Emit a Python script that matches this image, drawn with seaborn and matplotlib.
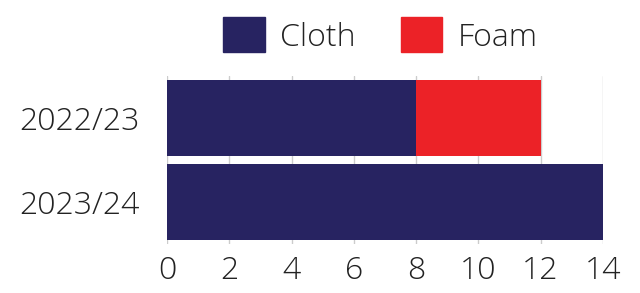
# Stacked horizontal bars: Cloth vs Foam per season

import pandas as pd
import seaborn as sns
import matplotlib.pyplot as plt
from matplotlib.patches import Patch

# Data

seasons = ['2022/23', '2023/24']
cloth = [8, 14]
foam = [4, 0]

navy = '#272361'
red = '#EC2227'

df = pd.DataFrame({'season': seasons, 'cloth': cloth, 'foam': foam})
df['total'] = df['cloth'] + df['foam']

sns.set_style('white')
plt.rcParams['font.family'] = ['Open Sans', 'DejaVu Sans']
plt.rcParams['font.weight'] = 'light'

fig, ax = plt.subplots(figsize=(6.4, 2.93), dpi=100)
fig.subplots_adjust(left=0.261, right=0.942, bottom=0.167, top=0.741)

# Total first (red shows the foam part), cloth over it
sns.barplot(data=df, x='total', y='season', color=red, width=0.9,
            saturation=1, linewidth=0, ax=ax, zorder=2)
sns.barplot(data=df, x='cloth', y='season', color=navy, width=0.9,
            saturation=1, linewidth=0, ax=ax, zorder=3)

ax.set_xlim(0, 14)
ax.set_ylim(1.5, -0.5)
ax.set_xticks(range(0, 15, 2))
ax.set_xlabel('')
ax.set_ylabel('')

ax.grid(axis='x', color='#cccccc', linewidth=1)
ax.set_axisbelow(True)
sns.despine(ax=ax, left=True, bottom=True)
ax.tick_params(axis='both', length=0, labelsize=23, colors='#222222')
ax.tick_params(axis='y', pad=20)
ax.tick_params(axis='x', pad=8)

handles = [Patch(color=navy, label='Cloth'), Patch(color=red, label='Foam')]
ax.legend(handles=handles, loc='lower center', bbox_to_anchor=(0.49, 1.0),
          ncol=2, frameon=False, fontsize=23, handlelength=1.3,
          handleheight=1.3, handletextpad=0.5, columnspacing=1.4,
          labelcolor='#222222', borderaxespad=0.3)

plt.savefig('out.png', dpi=100)
